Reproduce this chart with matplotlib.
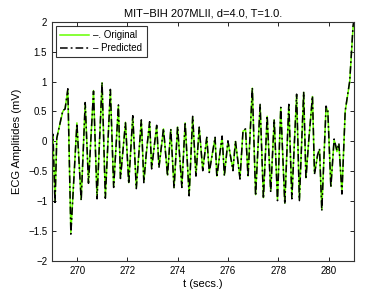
import matplotlib
matplotlib.use("Agg")
import matplotlib.pyplot as plt
import numpy as np

plt.rcParams['font.family'] = ['Liberation Sans', 'DejaVu Sans']

# turning points (time in s, amplitude in mV)
t_orig = [269.00, 269.04, 269.12, 269.19, 269.43, 269.52, 269.63, 269.75, 269.99,
          270.16, 270.32, 270.45, 270.65, 270.79, 270.99, 271.12, 271.32, 271.45,
          271.64, 271.72, 271.92, 272.05, 272.21, 272.35, 272.55, 272.65, 272.75,
          272.88, 272.96, 273.16, 273.25, 273.32, 273.43, 273.59, 273.72, 273.85,
          273.99, 274.16, 274.29, 274.45, 274.59, 274.72, 274.85, 274.99, 275.15,
          275.25, 275.48, 275.55, 275.76, 275.85, 275.99, 276.19, 276.29, 276.47,
          276.59, 276.69, 276.79, 276.96, 277.09, 277.27, 277.40, 277.55, 277.69,
          277.83, 277.96, 278.09, 278.25, 278.41, 278.53, 278.72, 278.83, 279.00,
          279.09, 279.20, 279.35, 279.43, 279.55, 279.63, 279.72, 279.89, 279.96,
          280.08, 280.21, 280.32, 280.40, 280.52, 280.65, 280.83, 280.96, 281.00]
y_orig = [0.00, 0.10, -1.02, 0.06, 0.50, 0.55, 0.86, -1.52, 0.31,
          -0.97, 0.64, -0.69, 0.85, -0.94, 0.98, -0.94, 0.86, -0.75,
          0.60, -0.61, 0.32, -0.69, 0.42, -0.77, 0.35, -0.67, -0.20,
          0.32, -0.44, 0.26, -0.42, -0.20, 0.21, -0.56, 0.20, -0.77,
          0.24, -0.75, 0.31, -0.89, 0.41, -0.56, 0.23, -0.47, 0.06,
          -0.50, 0.06, -0.58, 0.08, -0.56, 0.00, -0.47, 0.00, -0.61,
          0.17, 0.20, -0.58, 0.89, -0.89, 0.61, -0.94, 0.42, -0.83,
          0.36, -0.97, 0.56, -1.03, 0.61, -0.94, 0.78, -0.97, 0.82,
          -0.61, 0.00, 0.75, -0.53, -0.25, -0.14, -1.14, 0.58, 0.50,
          -0.75, 0.03, -0.17, -0.05, -0.86, 0.50, 1.00, 1.89, 2.00]

t_pred = t_orig
y_pred = [0.02, 0.12, -1.05, 0.05, 0.52, 0.54, 0.88, -1.55, 0.30,
          -0.99, 0.65, -0.70, 0.84, -0.96, 0.99, -0.95, 0.87, -0.77,
          0.61, -0.62, 0.31, -0.71, 0.43, -0.79, 0.36, -0.69, -0.18,
          0.33, -0.46, 0.27, -0.44, -0.18, 0.22, -0.58, 0.21, -0.79,
          0.25, -0.77, 0.32, -0.91, 0.42, -0.58, 0.24, -0.49, 0.07,
          -0.52, 0.07, -0.60, 0.09, -0.58, 0.01, -0.49, 0.01, -0.63,
          0.18, 0.21, -0.60, 0.90, -0.91, 0.62, -0.96, 0.43, -0.85,
          0.37, -0.99, 0.57, -1.05, 0.62, -0.96, 0.79, -0.99, 0.83,
          -0.63, 0.01, 0.76, -0.55, -0.23, -0.12, -1.16, 0.59, 0.51,
          -0.77, 0.04, -0.15, -0.03, -0.88, 0.51, 1.01, 1.92, 2.05]

fig = plt.figure(figsize=(3.9, 2.94), dpi=100)
ax = fig.add_axes([0.1333, 0.112, 0.7744, 0.814])

ax.plot(t_orig, y_orig, color='#66ff00', lw=1.1, label='\u2013. Original')
ax.plot(t_pred, y_pred, color='black', lw=1.1, dashes=(5, 2, 1.2, 2),
        label='\u2013 Predicted')

ax.set_xlim(269, 281)
ax.set_ylim(-2, 2)
ax.set_xticks(np.arange(270, 281, 2))
ax.set_yticks(np.arange(-2, 2.01, 0.5))
ax.set_yticklabels(['\u22122', '\u22121.5', '\u22121', '\u22120.5', '0', '0.5', '1', '1.5', '2'])
ax.tick_params(direction='in', top=True, right=True, labelsize=7, length=3, width=0.6)
for s in ax.spines.values():
    s.set_linewidth(0.8)
    s.set_color('#333333')

ax.set_xlabel('t (secs.)', fontsize=8, labelpad=2)
ax.set_ylabel('ECG Amplitides (mV)', fontsize=8, labelpad=4)
ax.set_title('MIT\u2212BIH 207MLII, d=4.0, T=1.0.', fontsize=8, pad=4)

leg = ax.legend(loc='upper left', fontsize=7, frameon=True, fancybox=False,
                handlelength=3.0, borderpad=0.45, labelspacing=0.3,
                handletextpad=0.4, borderaxespad=0.4)
leg.get_frame().set_edgecolor('black')
leg.get_frame().set_linewidth(0.8)

fig.savefig('out.png', dpi=100)
